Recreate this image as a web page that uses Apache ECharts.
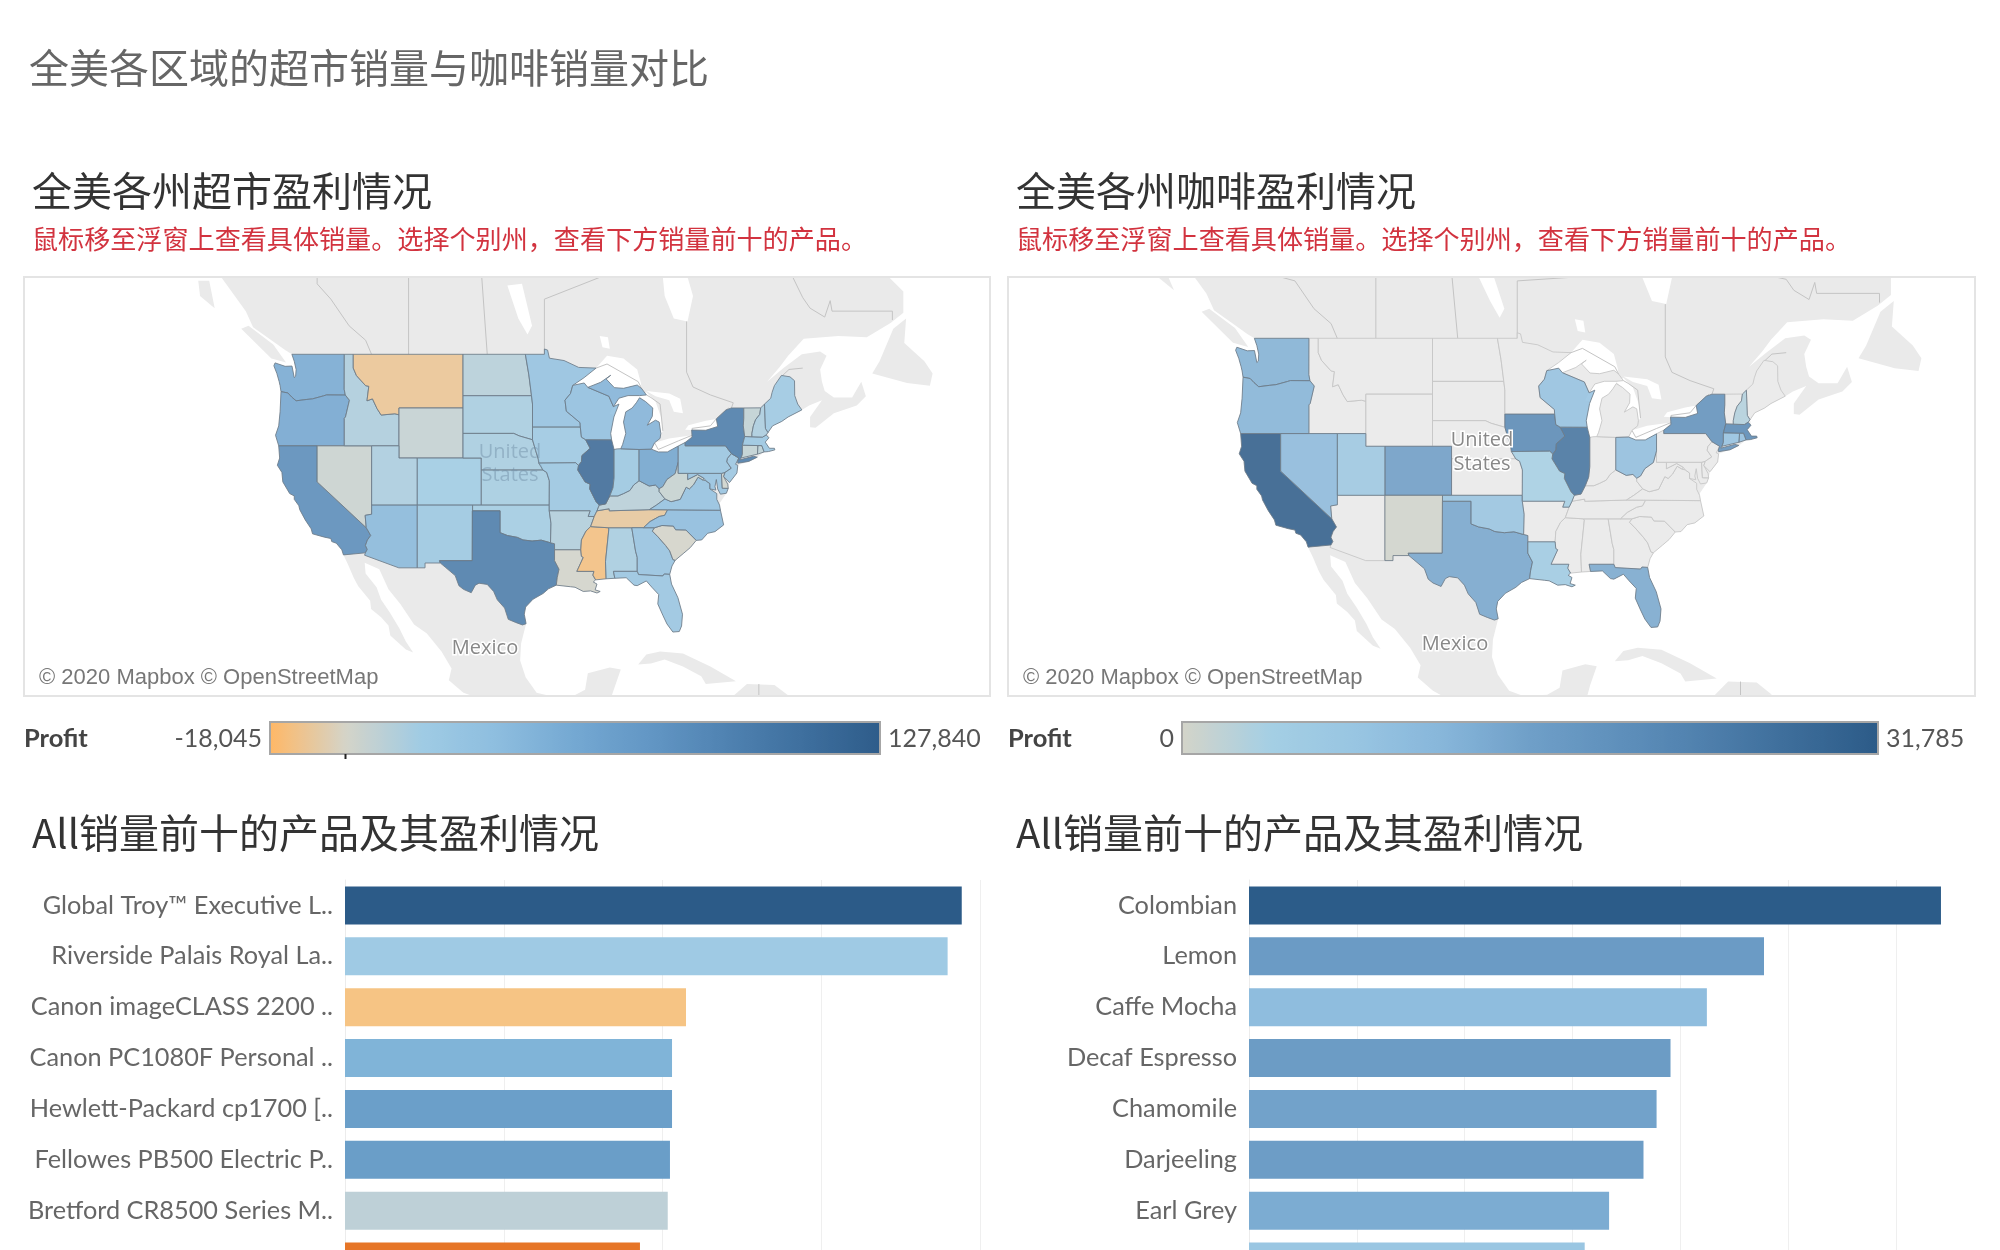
<!DOCTYPE html>
<html>
<head>
<meta charset="utf-8">
<title>全美各区域的超市销量与咖啡销量对比</title>
<script src="https://cdn.jsdelivr.net/npm/echarts@6/dist/echarts.min.js"></script>
<style>
  html, body { margin: 0; padding: 0; background: #fff; }
  #chart { width: 2000px; height: 1250px; }
</style>
</head>
<body>
<div id="chart"></div>
<script>
// values
const superstoreStates = ['WA','OR','CA','NV','ID','MT','WY','UT','CO','AZ','NM','ND','SD','NE','KS','OK','TX','MN','IA','MO','AR','LA','MS','AL','TN','KY','IL','IN','OH','WI','MI','GA','FL','SC','NC','VA','WV','MD','DE','PA','NJ','NY','CT','RI','MA','VT','NH','ME'];
const superstoreProfit = [55000,58000,85000,4000,14000,-10000,6000,15000,19000,42000,24000,11000,16000,16000,17000,18000,100000,32000,22000,26000,13000,1000,-14000,16000,-8500,10000,118000,24000,60000,36000,46000,30000,27000,400,38000,32000,5000,30000,2000,28000,25000,100000,7000,9000,26000,7000,15000,22000];
const coffeeStates = ['CA','IL','IA','NY','MA','CO','TX','FL','WA','OR','NV','UT','OK','WI','OH','CT','RI','MO','LA','NM','NH'];
const coffeeProfit = [31785,27000,22000,20000,22000,17000,15000,14500,13000,12500,11000,7000,8500,9000,10000,9000,10000,4000,6000,300,3000];

const officeProducts = ['Global Troy™ Executive L..','Riverside Palais Royal La..','Canon imageCLASS 2200 ..','Canon PC1080F Personal ..','Hewlett-Packard cp1700 [..','Fellowes PB500 Electric P..','Bretford CR8500 Series M..',''];
const officeSales = [38850,37960,21480,20600,20600,20470,20330,18580];
const officeProfit = [12000,3000,-6000,5900,7900,8000,1100,-11400];
const coffeeProducts = ['Colombian','Lemon','Caffe Mocha','Decaf Espresso','Chamomile','Darjeeling','Earl Grey',''];
const coffeeSales = [128311,95497,84904,78162,75578,73151,66772,62248];
const coffeeProductProfit = [55804,29869,17678,29502,27232,29053,24164,13000];

const storeRamp = ['#ffb866','#d4d4c9','#9fcbe4','#8dbddf','#74a8d2','#6296c4','#4f82b1','#3e6f9e','#2e5c8a'];
const coffeeRamp = ['#d4d4c9','#a5cfe4','#98c5e2','#87b6da','#6f9fc8','#5f90bc','#4f80ad','#3d6d9a','#2c5b88'];
const officeBarRamp = ['#e46c1c','#ee9a52','#f6c484','#e8d2ad','#d0d4cf','#9fcae4','#7fb3d8','#5f93c0','#2c5b88'];

// simplified state outlines, lon/lat
const stateShapes = {
  WA: [[[-122.76,49],[-117.03,49],[-117.04,46.43],[-116.92,45.99],[-118.98,46],[-119.3,45.93],[-120.5,45.7],[-121.2,45.65],[-122.3,45.55],[-122.8,45.85],[-123.2,46.15],[-123.95,46.25],[-124.05,46.7],[-124.15,47],[-124.4,47.6],[-124.73,48.17],[-124.6,48.38],[-123.5,48.13],[-122.75,48.15],[-122.5,47.3],[-122.35,47.4],[-122.3,47.9],[-122.5,48.5]]],
  OR: [[[-124.2,42],[-120,42],[-117.03,42],[-117.03,44.2],[-116.9,44.3],[-116.47,45.6],[-116.92,45.99],[-118.98,46],[-119.3,45.93],[-120.5,45.7],[-121.2,45.65],[-122.3,45.55],[-122.8,45.85],[-123.2,46.15],[-123.95,46.25],[-124.05,44.7],[-124.2,43.6],[-124.55,42.85]]],
  CA: [[[-124.2,42],[-120,42],[-120,39],[-114.63,35],[-114.14,34.3],[-114.5,33.9],[-114.72,33.4],[-114.52,33.03],[-114.72,32.72],[-117.12,32.53],[-117.3,33],[-117.9,33.6],[-118.4,33.75],[-118.5,34.03],[-119.2,34.15],[-120.5,34.45],[-120.65,34.9],[-121.3,35.7],[-121.9,36.6],[-122,36.95],[-122.5,37.5],[-122.5,37.8],[-123,38],[-123.75,39],[-123.85,39.8],[-124.35,40.4],[-124.1,41]]],
  NV: [[[-120,42],[-114.04,42],[-114.04,36.2],[-114.75,36.1],[-114.63,35],[-120,39]]],
  ID: [[[-117.03,49],[-116.05,49],[-116.05,48],[-115.7,47.45],[-114.7,46.7],[-114.35,46.65],[-114.55,45.55],[-113.95,45.7],[-113.45,44.95],[-113,44.45],[-111.5,44.55],[-111.05,44.47],[-111.05,42],[-114.04,42],[-117.03,42],[-117.03,44.2],[-116.9,44.3],[-116.47,45.6],[-116.92,45.99],[-117.04,46.43]]],
  MT: [[[-116.05,49],[-104.05,49],[-104.05,45],[-111.05,45],[-111.05,44.47],[-111.5,44.55],[-113,44.45],[-113.45,44.95],[-113.95,45.7],[-114.55,45.55],[-114.35,46.65],[-114.7,46.7],[-115.7,47.45],[-116.05,48]]],
  WY: [[[-111.05,45],[-104.05,45],[-104.05,41],[-111.05,41]]],
  UT: [[[-114.04,42],[-111.05,42],[-111.05,41],[-109.05,41],[-109.05,37],[-114.04,37]]],
  CO: [[[-109.05,41],[-102.05,41],[-102.05,37],[-109.05,37]]],
  AZ: [[[-114.04,37],[-109.05,37],[-109.05,31.33],[-111.07,31.33],[-114.81,32.5],[-114.72,32.72],[-114.52,33.03],[-114.72,33.4],[-114.5,33.9],[-114.14,34.3],[-114.63,35],[-114.75,36.1],[-114.04,36.2]]],
  NM: [[[-109.05,37],[-103,37],[-103.04,32],[-106.62,32],[-106.53,31.78],[-108.2,31.78],[-108.2,31.33],[-109.05,31.33]]],
  ND: [[[-104.05,49],[-97.23,49],[-96.85,47.5],[-96.56,45.94],[-104.05,45.94]]],
  SD: [[[-104.05,45.94],[-96.56,45.94],[-96.45,45.3],[-96.45,43.5],[-96.45,42.49],[-97.9,42.8],[-98.5,43],[-104.05,43]]],
  NE: [[[-104.05,43],[-98.5,43],[-97.9,42.8],[-96.45,42.49],[-96.1,41.6],[-95.85,41],[-95.31,40],[-102.05,40],[-102.05,41],[-104.05,41]]],
  KS: [[[-102.05,40],[-95.31,40],[-94.9,39.8],[-94.61,39.1],[-94.62,37],[-102.05,37]]],
  OK: [[[-103,37],[-94.62,37],[-94.62,36.5],[-94.43,35.4],[-94.48,33.64],[-95.5,33.88],[-96.5,33.8],[-97.5,33.9],[-98.1,34.13],[-99.2,34.3],[-100,34.56],[-100,36.5],[-103,36.5]]],
  TX: [[[-106.62,32],[-103.04,32],[-103.04,36.5],[-100,36.5],[-100,34.56],[-99.2,34.3],[-98.1,34.13],[-97.5,33.9],[-96.5,33.8],[-95.5,33.88],[-94.48,33.64],[-94.04,33.55],[-94.04,33],[-94.04,32],[-93.55,31.2],[-93.75,30.4],[-93.85,29.7],[-94.7,29.35],[-95.3,28.9],[-96.4,28.35],[-97.2,27.6],[-97.35,26.9],[-97.15,25.97],[-97.55,25.85],[-98.3,26.1],[-99.1,26.4],[-99.5,27.5],[-100.3,28.3],[-100.7,29.1],[-101.4,29.77],[-102.3,29.88],[-102.7,29.7],[-103.15,28.98],[-104,29.3],[-104.5,29.65],[-104.9,30.6],[-106,31.4],[-106.53,31.78]]],
  MN: [[[-97.23,49],[-95.15,49],[-95.15,49.38],[-94.8,49.3],[-94.6,48.72],[-93,48.55],[-91.4,48.05],[-89.5,48],[-90.8,47.3],[-92.05,46.72],[-92.3,46.1],[-92.9,45.6],[-92.75,44.75],[-91.25,43.85],[-91.22,43.5],[-96.45,43.5],[-96.45,45.3],[-96.56,45.94],[-96.85,47.5]]],
  IA: [[[-96.45,43.5],[-91.22,43.5],[-91.1,42.7],[-90.65,42.5],[-90.15,41.8],[-91.05,41.2],[-91.1,40.7],[-91.42,40.38],[-91.73,40.61],[-95.77,40.58],[-95.85,41],[-96.1,41.6],[-96.45,42.49]]],
  MO: [[[-95.77,40.58],[-91.73,40.61],[-91.42,40.38],[-91.5,40],[-90.7,39],[-90.15,38.8],[-90.2,38.4],[-89.5,37.3],[-89.15,37],[-89.4,36.5],[-89.7,36],[-90.37,36],[-90.15,36.5],[-94.62,36.5],[-94.62,37],[-94.61,39.1],[-94.9,39.8],[-95.31,40]]],
  AR: [[[-94.62,36.5],[-90.15,36.5],[-90.37,36],[-89.7,36],[-90.1,35.1],[-90.6,34.7],[-91.1,33.9],[-91.17,33],[-94.04,33],[-94.04,33.55],[-94.48,33.64],[-94.43,35.4]]],
  LA: [[[-94.04,33],[-91.17,33],[-91.1,32.4],[-90.9,32.3],[-91.6,31],[-89.73,31],[-89.85,30.65],[-89.55,30.2],[-89.8,30],[-89.4,29.8],[-89.6,29.25],[-89.05,29.1],[-89.4,28.95],[-90.1,29.15],[-90.9,29.1],[-91.8,29.5],[-92.3,29.55],[-93.85,29.7],[-93.75,30.4],[-93.55,31.2],[-94.04,32]]],
  MS: [[[-91.17,33],[-91.1,33.9],[-90.6,34.7],[-90.1,35.1],[-88.2,35],[-88.1,34.9],[-88.47,31.9],[-88.4,30.3],[-89.55,30.2],[-89.85,30.65],[-89.73,31],[-91.6,31],[-90.9,32.3],[-91.1,32.4]]],
  AL: [[[-88.2,35],[-85.6,35],[-85.18,32.87],[-85,32.3],[-85,31],[-87.6,31],[-87.45,30.35],[-88.4,30.3],[-88.47,31.9],[-88.1,34.9]]],
  GA: [[[-85.6,35],[-83.1,35],[-83.35,34.7],[-82.75,34.2],[-81.9,33.4],[-81.45,32.9],[-81.1,32.1],[-80.85,32.03],[-81.2,31.5],[-81.45,30.72],[-82.05,30.75],[-82.2,30.57],[-84.86,30.7],[-85,31],[-85,32.3],[-85.18,32.87]]],
  FL: [[[-87.6,31],[-85,31],[-84.86,30.7],[-82.2,30.57],[-82.05,30.75],[-81.45,30.72],[-81.25,29.8],[-80.55,28.5],[-80.05,26.9],[-80.15,25.75],[-80.4,25.2],[-81.1,25.15],[-81.75,25.95],[-82.2,26.8],[-82.75,27.9],[-82.65,28.8],[-83.4,29.5],[-84,30.1],[-85,29.65],[-85.35,29.7],[-86.2,30.4],[-87.45,30.35]]],
  SC: [[[-83.1,35],[-82.3,35.2],[-81.05,35.15],[-80.8,34.82],[-79.68,34.8],[-78.55,33.86],[-79.2,33.2],[-79.9,32.7],[-80.85,32.03],[-81.1,32.1],[-81.45,32.9],[-81.9,33.4],[-82.75,34.2],[-83.35,34.7]]],
  NC: [[[-84.32,35],[-83.1,35],[-82.3,35.2],[-81.05,35.15],[-80.8,34.82],[-79.68,34.8],[-78.55,33.86],[-77.95,33.9],[-77.3,34.5],[-76.5,34.65],[-75.55,35.25],[-75.9,36.55],[-81.68,36.59],[-82,36.1],[-82.6,36],[-83.6,35.55]]],
  TN: [[[-90.1,35.1],[-88.2,35],[-85.6,35],[-84.32,35],[-83.6,35.55],[-82.6,36],[-82,36.1],[-81.68,36.59],[-83.68,36.6],[-88.05,36.5],[-88.07,36.68],[-89.4,36.5],[-89.7,36]]],
  KY: [[[-89.4,36.5],[-88.07,36.68],[-88.05,36.5],[-83.68,36.6],[-82.9,37],[-81.97,37.54],[-82.6,38.17],[-82.6,38.42],[-83,38.73],[-83.7,38.65],[-84.8,39.1],[-85.4,38.73],[-85.8,38.27],[-86.5,38],[-87.1,37.8],[-88,37.8],[-88.45,37.1],[-89.15,37]]],
  VA: [[[-83.68,36.6],[-81.68,36.59],[-75.9,36.55],[-76,37],[-76.3,37.5],[-76.3,38],[-77.05,38.4],[-77.05,38.85],[-77.5,39.1],[-77.8,39.15],[-78.35,39.4],[-78.85,38.75],[-79.3,38.4],[-79.65,38.55],[-80.3,37.5],[-81.3,37.3],[-81.97,37.54],[-82.9,37]]],
  WV: [[[-81.97,37.54],[-81.3,37.3],[-80.3,37.5],[-79.65,38.55],[-79.3,38.4],[-78.85,38.75],[-78.35,39.4],[-77.8,39.15],[-77.72,39.32],[-78.4,39.62],[-79.48,39.2],[-79.48,39.72],[-80.52,39.72],[-80.52,40.64],[-80.85,39.7],[-81.75,39.2],[-82.2,38.6],[-82.6,38.42],[-82.6,38.17]]],
  MD: [[[-79.48,39.72],[-75.79,39.72],[-75.7,38.46],[-75.05,38.45],[-75.25,38.03],[-75.9,37.95],[-76.2,38.4],[-76.35,39.2],[-76.5,38.6],[-76.4,38.3],[-77.05,38.4],[-77.05,38.85],[-77.5,39.1],[-77.72,39.32],[-78.4,39.62],[-79.48,39.2]]],
  DE: [[[-75.79,39.72],[-75.4,39.8],[-75.55,39.45],[-75.1,38.8],[-75.05,38.45],[-75.7,38.46]]],
  PA: [[[-80.52,41.98],[-79.76,42.27],[-79.76,42],[-75.35,42],[-74.7,41.36],[-75.13,40.97],[-75.2,40.68],[-74.72,40.15],[-75.4,39.8],[-75.79,39.72],[-80.52,39.72]]],
  NJ: [[[-74.7,41.36],[-73.9,41],[-74.25,40.48],[-74,40.4],[-74.1,39.75],[-74.9,38.95],[-75.55,39.45],[-75.4,39.8],[-74.72,40.15],[-75.2,40.68],[-75.13,40.97]]],
  NY: [[[-79.76,42.27],[-79,42.7],[-79.05,43.27],[-77.5,43.25],[-76.2,43.55],[-76.35,44.15],[-75.3,44.85],[-74.7,45],[-73.35,45],[-73.35,44.2],[-73.4,43.6],[-73.25,42.75],[-73.5,42.05],[-73.5,41.3],[-73.65,41],[-73.77,40.85],[-72.3,41.15],[-71.87,41.07],[-72.8,40.72],[-74,40.57],[-74.03,40.7],[-73.9,41],[-74.7,41.36],[-75.35,42],[-79.76,42]]],
  CT: [[[-73.5,42.05],[-71.8,42.02],[-71.85,41.32],[-73.65,41],[-73.5,41.3]]],
  RI: [[[-71.8,42.02],[-71.38,42.02],[-71.12,41.5],[-71.85,41.32]]],
  MA: [[[-73.5,42.05],[-73.25,42.75],[-71.3,42.7],[-70.9,42.88],[-70.6,42.65],[-71,42.3],[-70.55,41.8],[-70,41.8],[-69.95,41.67],[-70.65,41.53],[-71.12,41.5],[-71.38,42.02],[-71.8,42.02]]],
  VT: [[[-73.35,45],[-71.5,45.01],[-71.6,44.5],[-72.05,44.1],[-72.3,43.6],[-72.46,43],[-72.46,42.73],[-73.25,42.75],[-73.4,43.6],[-73.35,44.2]]],
  NH: [[[-71.5,45.01],[-71.08,45.3],[-70.98,43.4],[-70.7,43.07],[-70.9,42.88],[-71.3,42.7],[-72.46,42.73],[-72.46,43],[-72.3,43.6],[-72.05,44.1],[-71.6,44.5]]],
  ME: [[[-71.08,45.3],[-70.4,45.75],[-70.25,46.2],[-70,46.7],[-69.23,47.46],[-68.3,47.36],[-67.8,47.07],[-67.78,45.95],[-67.45,45.3],[-67,44.85],[-68.5,44.3],[-69.2,43.95],[-70.2,43.6],[-70.7,43.07],[-70.98,43.4]]],
  WI: [[[-92.05,46.72],[-90.8,46.9],[-90.4,46.57],[-88.1,45.9],[-87.6,45.1],[-87,45.3],[-87.55,44.3],[-87.9,43],[-87.8,42.49],[-90.65,42.5],[-91.1,42.7],[-91.22,43.5],[-91.25,43.85],[-92.75,44.75],[-92.9,45.6],[-92.3,46.1]]],
  IL: [[[-90.65,42.5],[-87.8,42.49],[-87.53,41.7],[-87.53,39.35],[-87.65,38.5],[-88,37.8],[-88.45,37.1],[-89.15,37],[-89.5,37.3],[-90.2,38.4],[-90.15,38.8],[-90.7,39],[-91.5,40],[-91.42,40.38],[-91.1,40.7],[-91.05,41.2],[-90.15,41.8]]],
  IN: [[[-87.53,41.7],[-87.2,41.75],[-86.8,41.76],[-84.8,41.7],[-84.8,39.1],[-85.4,38.73],[-85.8,38.27],[-86.5,38],[-87.1,37.8],[-88,37.8],[-87.65,38.5],[-87.53,39.35]]],
  OH: [[[-84.8,41.7],[-83.45,41.73],[-82.7,41.5],[-81.7,41.5],[-80.52,41.98],[-80.52,40.64],[-80.85,39.7],[-81.75,39.2],[-82.2,38.6],[-82.6,38.42],[-83,38.73],[-83.7,38.65],[-84.8,39.1]]],
  MI: [
    [[-86.8,41.76],[-84.8,41.7],[-83.45,41.73],[-83.1,42.25],[-82.5,42.6],[-82.42,43],[-82.6,43.9],[-83,44.05],[-83.9,43.65],[-83.35,44.35],[-83.3,45],[-84.1,45.5],[-84.75,45.78],[-85.1,45.4],[-85.55,45],[-86.25,44.7],[-86.5,43.9],[-86.25,43],[-86.6,42.1]],
    [[-90.4,46.57],[-88.1,45.9],[-87.6,45.1],[-87,45.75],[-86,45.95],[-84.75,45.95],[-84,46],[-84.5,46.47],[-85,46.75],[-86.5,46.5],[-87.5,46.55],[-88.4,47.2],[-87.9,47.47],[-89,46.95]]
  ]
};

// base map under the states
const landShapes = [
  [[-133,56],[-131.5,55],[-130.5,54.4],[-129,53],[-127.8,52],[-127,50.9],[-125,50],[-123.5,49.3],[-122.76,49],[-122.5,48.5],[-122.3,47.9],[-122.35,47.4],[-122.5,47.3],[-122.75,48.15],[-123.5,48.13],[-124.6,48.38],[-124.73,48.17],[-124.4,47.6],[-124.15,47],[-124.05,46.7],[-123.95,46.25],[-124.05,44.7],[-124.2,43.6],[-124.55,42.85],[-124.2,42],[-124.1,41],[-124.35,40.4],[-123.85,39.8],[-123.75,39],[-123,38],[-122.5,37.8],[-122.5,37.5],[-122,36.95],[-121.9,36.6],[-121.3,35.7],[-120.65,34.9],[-120.5,34.45],[-119.2,34.15],[-118.5,34.03],[-118.4,33.75],[-117.9,33.6],[-117.3,33],[-117.12,32.53],[-116.6,31.6],[-116,30.4],[-115.5,29.6],[-114.2,28.2],[-114.1,27.4],[-113,26.6],[-112.2,25.8],[-112,24.8],[-110.3,23.4],[-109.5,23.1],[-110.3,24.2],[-111,25.5],[-112,27],[-113,28.3],[-113.5,29.5],[-114.7,30.8],[-114.8,31.8],[-113.2,31.2],[-112.2,29.3],[-110.9,27.9],[-109.4,25.9],[-108,25],[-106.4,23.2],[-105.3,21.5],[-105.6,20.3],[-104,19],[-103,18],[-100,16],[-88,15],[-87.8,18.3],[-87.5,19.5],[-86.8,21.4],[-88,21.6],[-90.4,21],[-90.7,19.3],[-92,18.6],[-94.5,18.2],[-96,19],[-97.2,20.6],[-97.8,22.3],[-97.7,24],[-97.15,25.97],[-97.35,26.9],[-97.2,27.6],[-96.4,28.35],[-95.3,28.9],[-94.7,29.35],[-93.85,29.7],[-92.3,29.55],[-91.8,29.5],[-90.9,29.1],[-90.1,29.15],[-89.4,28.95],[-89.05,29.1],[-89.6,29.25],[-89.4,29.8],[-89.8,30],[-89.55,30.2],[-88.4,30.3],[-87.45,30.35],[-86.2,30.4],[-85.35,29.7],[-85,29.65],[-84,30.1],[-83.4,29.5],[-82.65,28.8],[-82.75,27.9],[-82.2,26.8],[-81.75,25.95],[-81.1,25.15],[-80.4,25.2],[-80.15,25.75],[-80.05,26.9],[-80.55,28.5],[-81.25,29.8],[-81.45,30.72],[-81.2,31.5],[-80.85,32.03],[-79.9,32.7],[-79.2,33.2],[-78.55,33.86],[-77.95,33.9],[-77.3,34.5],[-76.5,34.65],[-75.55,35.25],[-75.9,36.55],[-76,37],[-75.95,37.2],[-75.25,38.03],[-75.05,38.45],[-74.9,38.95],[-74.1,39.75],[-74,40.4],[-72.8,40.72],[-71.87,41.07],[-71.12,41.5],[-70.65,41.53],[-69.95,41.67],[-70,41.8],[-70.55,41.8],[-71,42.3],[-70.6,42.65],[-70.7,43.07],[-70.2,43.6],[-69.2,43.95],[-68.5,44.3],[-67,44.85],[-66.2,45.2],[-64.8,45.6],[-66.1,44.3],[-66.1,43.5],[-65.5,43.45],[-63.5,44.6],[-61,45.2],[-60,45.9],[-60.5,47],[-61.5,45.8],[-63.5,45.8],[-64.5,46.3],[-64.8,47],[-65,47.9],[-64.3,48.9],[-65,49.2],[-67,49],[-69,48],[-70.8,47],[-69.4,48.1],[-68.5,48.9],[-66.8,50.1],[-63,50.3],[-59.9,50.2],[-57.3,51.2],[-55.9,51.9],[-55.9,53.3],[-57.5,55],[-60,56]],
  [[-59.3,47.6],[-55.5,46.9],[-53,46.7],[-52.7,47.6],[-53.6,48.5],[-55.8,49.8],[-55.6,51.5],[-57,50.8],[-58.5,48.5]],
  [[-128.3,50.8],[-125,48.7],[-123.4,48.4],[-124.8,49.7],[-127.5,51]],
  [[-133,54],[-131.8,54],[-131.2,52.2],[-132.8,53]],
  [[-84.9,21.9],[-84,22.9],[-82.5,23.2],[-80,23],[-77,21.7],[-74.2,20.2],[-77.5,19.9],[-78,20.7],[-80,21.7],[-82,22.4],[-83.5,22]],
  [[-74.5,18.4],[-73,19.9],[-70,19.8],[-68.4,18.6],[-71,18]]
];
const waterShapes = [
  [[-92.1,46.75],[-91,47.25],[-89.5,48],[-88.3,48.9],[-86.5,48.7],[-85,47.9],[-84.6,46.9],[-84.5,46.47],[-85,46.75],[-86.5,46.5],[-87.5,46.55],[-88.4,47.1],[-89,46.95],[-90.4,46.57],[-90.8,46.9]],
  [[-87.8,42.49],[-87.53,41.7],[-86.8,41.76],[-86.6,42.1],[-86.25,43],[-86.5,43.9],[-86.25,44.7],[-85.55,45],[-85.1,45.4],[-84.75,45.78],[-84.75,45.95],[-86,45.95],[-87,45.75],[-87.6,45.1],[-88,44.55],[-87.55,44.5],[-87.9,43]],
  [[-84.75,45.9],[-84.1,45.5],[-83.3,45],[-83.35,44.35],[-83.9,43.65],[-83,44.05],[-82.6,43.9],[-82.42,43],[-82.2,43.2],[-82.4,44.3],[-83,45.5],[-84,46.2]],
  [[-84,46.3],[-81.5,46.1],[-80.3,45.7],[-80,44.6],[-81,44.7],[-81.5,45.6],[-83,45.9]],
  [[-83.45,41.73],[-83.1,42.25],[-81.5,42.6],[-79,42.85],[-78.9,42.9],[-79.76,42.27],[-80.52,41.98],[-81.7,41.5],[-82.7,41.5]],
  [[-79.76,43.3],[-79,43.27],[-77.5,43.25],[-76.2,43.55],[-76.35,44.15],[-77.5,44],[-79.4,43.65]],
  [[-81,56],[-82.2,55],[-82,53],[-81,51.5],[-79.5,51.3],[-78.9,53],[-79.5,56]],
  [[-99.2,53.7],[-97.6,53.8],[-96.5,51],[-97,50.4],[-98,51.5]],
  [[-89.1,50.3],[-88.2,50.2],[-88,49.4],[-88.8,49.5]]
];
const borderLines = [
  [[-120,60],[-120,53.8],[-118.5,52.8],[-116.5,51],[-114.7,50],[-114.05,49]],
  [[-110,60],[-110,49]],
  [[-102,60],[-101.4,49]],
  [[-95.15,49],[-95.15,52.8],[-89,56.8]],
  [[-79.6,51.3],[-79.6,47.7],[-78.9,46.6],[-77,46],[-74.5,45.4],[-74.7,45]],
  [[-57.1,51.4],[-57.1,52],[-63.7,52],[-63.9,52.7],[-64.5,51.6],[-66.1,52.2],[-66.9,52.9],[-68,54.5]],
  [[-69.2,47.4],[-68.4,47.9],[-66.9,48]],
  [[-89.5,48],[-88.3,48.3],[-84.9,47],[-84.5,46.47]],
  [[-84,46],[-83.5,45.8],[-82.5,45.3],[-82.2,43.2]],
  [[-83.1,42.25],[-82.7,41.7],[-80.5,42.4],[-79,42.85]],
  [[-79,43.27],[-79,43.4],[-77,43.6],[-76.3,44.2],[-75,45]],
  [[-71.7,18],[-71.7,19.9]]
];

// each panel's Mercator scale and one anchor point, measured on the picture
const leftPanel = {x0: 24, y0: 277, x1: 990, y1: 696, anchorX: 463, anchorY: 354.3, scale: 524};
const rightPanel = {x0: 1008, y0: 277, x1: 1975, y1: 696, anchorX: 1432.5, anchorY: 338.3, scale: 545.5};

const rad = Math.PI / 180;
const merc = lat => Math.log(Math.tan(Math.PI / 4 + lat * rad / 2));
const mercator = {
  project: p => [p[0] * rad, -merc(p[1])],
  unproject: p => [p[0] / rad, (2 * Math.atan(Math.exp(-p[1])) - Math.PI / 2) / rad]
};
function panelBox(panel) {
  const lon = px => -104.05 + (px - panel.anchorX) / panel.scale / rad;
  const lat = py => mercator.unproject([0, -(merc(49) - (py - panel.anchorY) / panel.scale)])[1];
  return [[lon(panel.x0), lat(panel.y0)], [lon(panel.x1), lat(panel.y1)]];
}
const leftBox = panelBox(leftPanel);
const rightBox = panelBox(rightPanel);

const clampTo = (box, ring) => ring.map(p => [
  Math.min(Math.max(p[0], box[0][0]), box[1][0]),
  Math.min(Math.max(p[1], box[1][1]), box[0][1])
]);
const feature = (name, polys) => ({
  type: 'Feature',
  properties: {name},
  geometry: {type: 'MultiPolygon', coordinates: polys.map(r => [r])}
});
const statesJson = names => ({type: 'FeatureCollection', features: names.map(n => feature(n, stateShapes[n]))});
const baseJson = box => ({
  type: 'FeatureCollection',
  features: [
    feature('land', landShapes.map(r => clampTo(box, r))),
    feature('water', waterShapes.map(r => clampTo(box, r)))
  ]
});

echarts.registerMap('landLeft', baseJson(leftBox));
echarts.registerMap('landRight', baseJson(rightBox));
echarts.registerMap('storeStates', statesJson(superstoreStates));
echarts.registerMap('coffeeStates', statesJson(coffeeStates));
echarts.registerMap('otherStates', statesJson(Object.keys(stateShapes).filter(n => !coffeeStates.includes(n))));

const panelLayout = (p) => ({left: p.x0, top: p.y0, width: p.x1 - p.x0, height: p.y1 - p.y0});
const geoFor = (map, panel, box) => Object.assign({
  map,
  projection: mercator,
  boundingCoords: box,
  silent: true,
  roam: false,
  z: 0,
  itemStyle: {areaColor: '#eaeaea', borderWidth: 0},
  regions: [{name: 'water', itemStyle: {areaColor: '#fff', borderWidth: 0}}]
}, panelLayout(panel));
const mapSeries = (map, panel, box, data, border, z) => Object.assign({
  type: 'map',
  map,
  projection: mercator,
  boundingCoords: box,
  silent: true,
  roam: false,
  z,
  showLegendSymbol: false,
  label: {show: false},
  itemStyle: {areaColor: '#ebebeb', borderColor: border, borderWidth: 1, opacity: 0.85},
  data
}, panelLayout(panel));
const borderSeries = (geoIndex, box) => ({
  type: 'lines',
  coordinateSystem: 'geo',
  geoIndex,
  polyline: true,
  silent: true,
  z: 1,
  lineStyle: {color: '#c4c4c4', width: 1, opacity: 1},
  data: borderLines.map(l => ({coords: clampTo(box, l)}))
});
const barSeries = (xAxisIndex, sales, profit) => ({
  type: 'bar',
  xAxisIndex,
  yAxisIndex: xAxisIndex,
  barWidth: 38,
  silent: true,
  encode: {x: 0, y: 1},
  data: sales.map((s, i) => [s, i, profit[i]])
});
const xAxisFor = (gridIndex, max, interval) => ({
  type: 'value',
  gridIndex,
  min: 0,
  max,
  interval,
  axisLabel: {show: false},
  axisTick: {show: false},
  axisLine: {show: false},
  splitLine: {lineStyle: {color: '#efefef', width: 1}}
});
const yAxisFor = (gridIndex, data) => ({
  type: 'category',
  gridIndex,
  inverse: true,
  data,
  axisTick: {show: false},
  axisLine: {show: true, lineStyle: {color: '#ececec', width: 1}},
  axisLabel: {color: '#666', fontFamily: 'Lato', fontSize: 25.3, margin: 12, interval: 0}
});

const cjk = '"Noto Sans CJK SC"';
const txt = (x, y, text, fontSize, fill, fontFamily, align, extra) => ({
  type: 'text',
  x, y,
  z: 50,
  silent: true,
  style: Object.assign({text, fontSize, fill, fontFamily, align: align || 'left', verticalAlign: 'middle'}, extra)
});
const frame = (p) => ({
  type: 'rect',
  z: 40,
  silent: true,
  shape: {x: p.x0, y: p.y0, width: p.x1 - p.x0, height: p.y1 - p.y0},
  style: {fill: 'none', stroke: '#e4e4e4', lineWidth: 2}
});
const legendFrame = (x, y, width, height) => ({
  type: 'rect',
  z: 40,
  silent: true,
  shape: {x, y, width, height},
  style: {fill: 'none', stroke: '#a6a6a6', lineWidth: 2}
});
const halo = {stroke: '#fff', lineWidth: 3};

const tips = '鼠标移至浮窗上查看具体销量。选择个别州，查看下方销量前十的产品。';
const chart = echarts.init(document.getElementById('chart'), null, {renderer: 'canvas'});
chart.setOption({
  animation: false,
  backgroundColor: '#fff',
  tooltip: {show: false},
  geo: [geoFor('landLeft', leftPanel, leftBox), geoFor('landRight', rightPanel, rightBox)],
  grid: [
    {left: 345, top: 880, width: 635, height: 407, outerBoundsMode: 'none'},
    {left: 1249, top: 880, width: 755, height: 407, outerBoundsMode: 'none'}
  ],
  xAxis: [xAxisFor(0, 40000, 10000), xAxisFor(1, 140000, 20000)],
  yAxis: [yAxisFor(0, officeProducts), yAxisFor(1, coffeeProducts)],
  visualMap: [
    {type: 'continuous', seriesIndex: 0, min: -18045, max: 127840, calculable: false, orient: 'horizontal', left: 270, top: 722, itemWidth: 32, itemHeight: 610, padding: 0, text: null, inRange: {color: storeRamp}},
    {type: 'continuous', seriesIndex: 2, min: 0, max: 31785, calculable: false, orient: 'horizontal', left: 1182, top: 722, itemWidth: 32, itemHeight: 696, padding: 0, text: null, inRange: {color: coffeeRamp}},
    {type: 'continuous', show: false, seriesIndex: 3, dimension: 2, min: -12000, max: 12000, inRange: {color: officeBarRamp}},
    {type: 'continuous', show: false, seriesIndex: 4, dimension: 2, min: 0, max: 56000, inRange: {color: coffeeRamp}}
  ],
  series: [
    mapSeries('storeStates', leftPanel, leftBox, superstoreStates.map((name, i) => ({name, value: superstoreProfit[i]})), '#6d7b88', 3),
    mapSeries('otherStates', rightPanel, rightBox, [], '#c6c6c6', 2),
    mapSeries('coffeeStates', rightPanel, rightBox, coffeeStates.map((name, i) => ({name, value: coffeeProfit[i]})), '#6d7b88', 3),
    barSeries(0, officeSales, officeProfit),
    barSeries(1, coffeeSales, coffeeProductProfit),
    borderSeries(0, leftBox),
    borderSeries(1, rightBox)
  ],
  graphic: {
    elements: [
      frame(leftPanel),
      frame(rightPanel),
      legendFrame(270, 722, 610, 32),
      legendFrame(1182, 722, 696, 32),
      {type: 'line', z: 40, silent: true, shape: {x1: 345.5, y1: 754, x2: 345.5, y2: 759}, style: {stroke: '#222', lineWidth: 2}},
      txt(29, 68, '全美各区域的超市销量与咖啡销量对比', 40, '#666', cjk),
      txt(32, 191, '全美各州超市盈利情况', 40, '#333', cjk),
      txt(1016, 191, '全美各州咖啡盈利情况', 40, '#333', cjk),
      txt(32, 239, tips, 26.1, '#d2333f', cjk),
      txt(1016, 239, tips, 26.1, '#d2333f', cjk),
      txt(32, 833, 'All销量前十的产品及其盈利情况', 40, '#333', cjk),
      txt(1016, 833, 'All销量前十的产品及其盈利情况', 40, '#333', cjk),
      txt(39, 678, '© 2020 Mapbox © OpenStreetMap', 22, '#777', 'Liberation Sans'),
      txt(1023, 678, '© 2020 Mapbox © OpenStreetMap', 22, '#777', 'Liberation Sans'),
      txt(485, 648, 'Mexico', 20, '#888', 'Open Sans', 'center', halo),
      txt(1455, 644, 'Mexico', 20, '#888', 'Open Sans', 'center', halo),
      txt(510, 452, 'United', 20, 'rgba(110,140,165,0.45)', 'Open Sans', 'center'),
      txt(510, 475, 'States', 20, 'rgba(110,140,165,0.45)', 'Open Sans', 'center'),
      txt(1482, 440, 'United', 20, '#888', 'Open Sans', 'center', halo),
      txt(1482, 464, 'States', 20, '#888', 'Open Sans', 'center', halo),
      txt(24, 739, 'Profit', 25.5, '#444', 'Lato', 'left', {fontWeight: 'bold'}),
      txt(1008, 739, 'Profit', 25.5, '#444', 'Lato', 'left', {fontWeight: 'bold'}),
      txt(262, 739, '-18,045', 25, '#555', 'Lato', 'right'),
      txt(888, 739, '127,840', 25, '#555', 'Lato'),
      txt(1174, 739, '0', 25, '#555', 'Lato', 'right'),
      txt(1886, 739, '31,785', 25, '#555', 'Lato')
    ]
  }
});
</script>
</body>
</html>
